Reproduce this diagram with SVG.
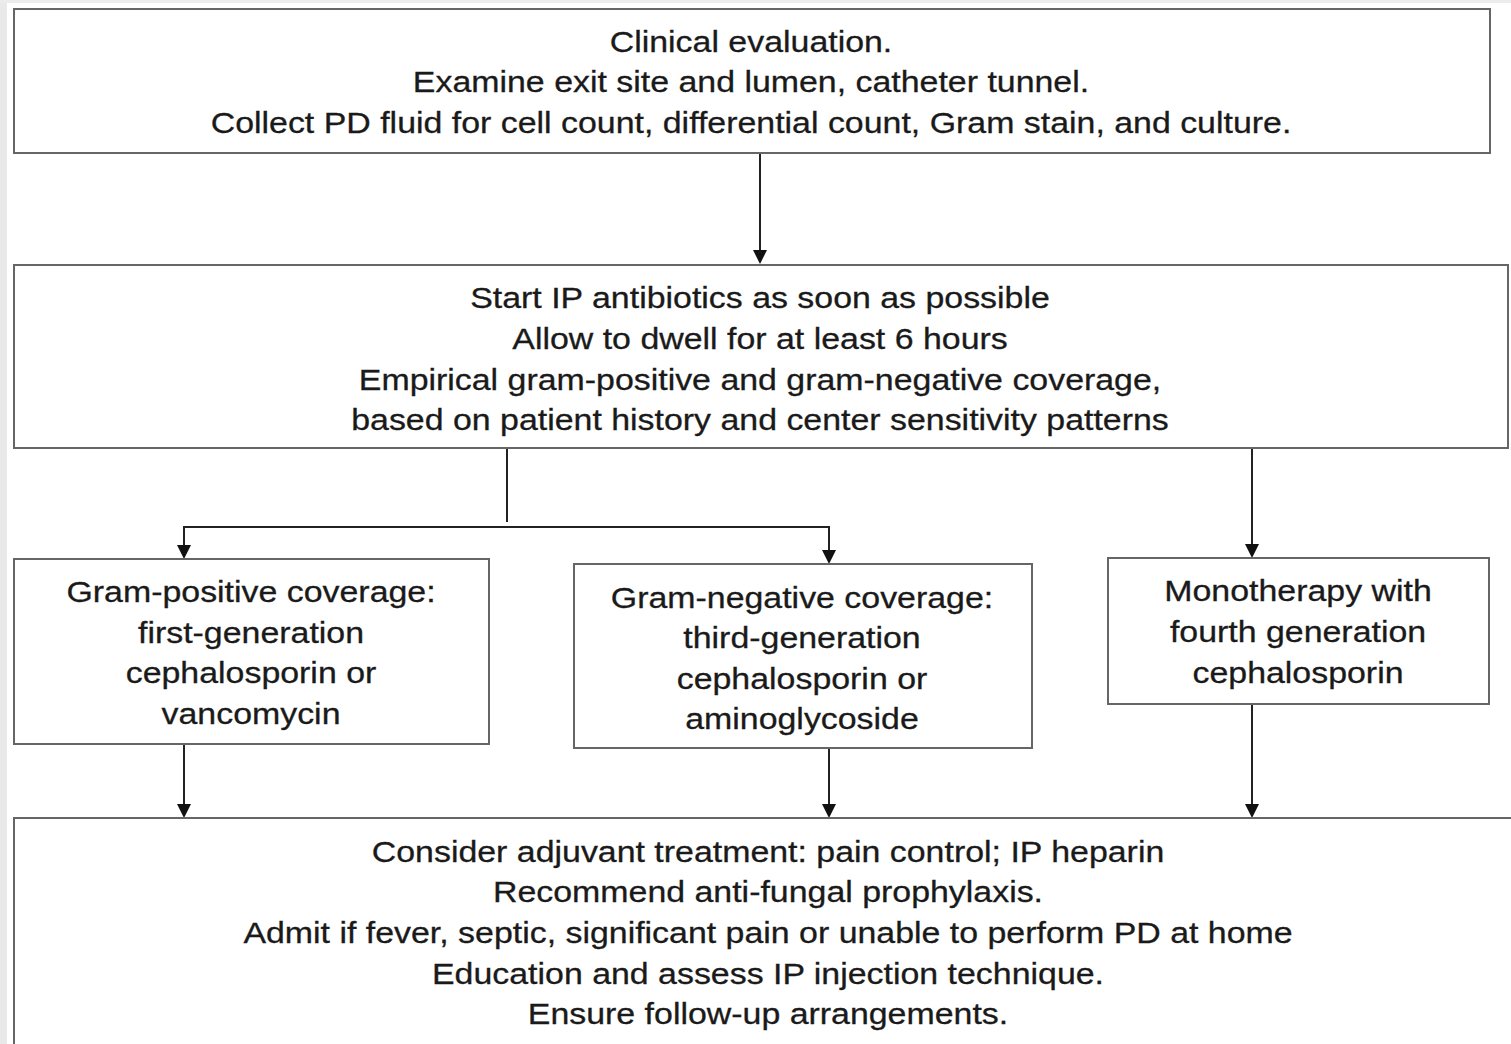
<svg xmlns="http://www.w3.org/2000/svg" width="1511" height="1044" viewBox="0 0 1511 1044">
<style>
.box{fill:#fff;stroke:#666;stroke-width:2}
.t{font-family:"Liberation Sans",Arial,sans-serif;font-size:30px;fill:#1a1a1a;text-anchor:middle;stroke:#1a1a1a;stroke-width:0.3}
.c{stroke:#222;stroke-width:2;fill:none}
.ah{fill:#111}
</style>
<rect x="0" y="0" width="1511" height="1044" fill="#fff"/>
<rect x="0" y="0" width="7" height="1044" fill="#e9e9e9"/>
<rect x="0" y="0" width="1511" height="3" fill="#ececec"/>
<g id="connectors">
<path class="c" d="M760,153 V250"/>
<path class="ah" d="M753,250 L767,250 L760,264 Z"/>
<path class="c" d="M507,448 V522"/>
<path class="c" d="M184,545 V527 H829 V550"/>
<path class="ah" d="M177,545 L191,545 L184,559 Z"/>
<path class="ah" d="M822,550 L836,550 L829,564 Z"/>
<path class="c" d="M1252,448 V544"/>
<path class="ah" d="M1245,544 L1259,544 L1252,558 Z"/>
<path class="c" d="M184,744 V804"/>
<path class="ah" d="M177,804 L191,804 L184,818 Z"/>
<path class="c" d="M829,748 V804"/>
<path class="ah" d="M822,804 L836,804 L829,818 Z"/>
<path class="c" d="M1252,704 V804"/>
<path class="ah" d="M1245,804 L1259,804 L1252,818 Z"/>
</g>
<g id="n1">
<rect class="box" x="14" y="9" width="1476" height="144"/>
<g transform="translate(751,0) scale(1.13,1)">
<text class="t" x="0" y="52">Clinical evaluation.</text>
<text class="t" x="0" y="92">Examine exit site and lumen, catheter tunnel.</text>
<text class="t" x="0" y="133">Collect PD fluid for cell count, differential count, Gram stain, and culture.</text>
</g>
</g>
<g id="n2">
<rect class="box" x="14" y="265" width="1494" height="183"/>
<g transform="translate(760,0) scale(1.13,1)">
<text class="t" x="0" y="308">Start IP antibiotics as soon as possible</text>
<text class="t" x="0" y="349">Allow to dwell for at least 6 hours</text>
<text class="t" x="0" y="390">Empirical gram-positive and gram-negative coverage,</text>
<text class="t" x="0" y="430">based on patient history and center sensitivity patterns</text>
</g>
</g>
<g id="n3">
<rect class="box" x="14" y="559" width="475" height="185"/>
<g transform="translate(251,0) scale(1.13,1)">
<text class="t" x="0" y="602">Gram-positive coverage:</text>
<text class="t" x="0" y="643">first-generation</text>
<text class="t" x="0" y="683">cephalosporin or</text>
<text class="t" x="0" y="724">vancomycin</text>
</g>
</g>
<g id="n4">
<rect class="box" x="574" y="564" width="458" height="184"/>
<g transform="translate(802,0) scale(1.13,1)">
<text class="t" x="0" y="608">Gram-negative coverage:</text>
<text class="t" x="0" y="648">third-generation</text>
<text class="t" x="0" y="689">cephalosporin or</text>
<text class="t" x="0" y="729">aminoglycoside</text>
</g>
</g>
<g id="n5">
<rect class="box" x="1108" y="558" width="381" height="146"/>
<g transform="translate(1298,0) scale(1.13,1)">
<text class="t" x="0" y="601">Monotherapy with</text>
<text class="t" x="0" y="642">fourth generation</text>
<text class="t" x="0" y="683">cephalosporin</text>
</g>
</g>
<g id="n6">
<rect class="box" x="14" y="818" width="1510" height="240"/>
<g transform="translate(768,0) scale(1.13,1)">
<text class="t" x="0" y="862">Consider adjuvant treatment: pain control; IP heparin</text>
<text class="t" x="0" y="902">Recommend anti-fungal prophylaxis.</text>
<text class="t" x="0" y="943">Admit if fever, septic, significant pain or unable to perform PD at home</text>
<text class="t" x="0" y="984">Education and assess IP injection technique.</text>
<text class="t" x="0" y="1024">Ensure follow-up arrangements.</text>
</g>
</g>
</svg>
